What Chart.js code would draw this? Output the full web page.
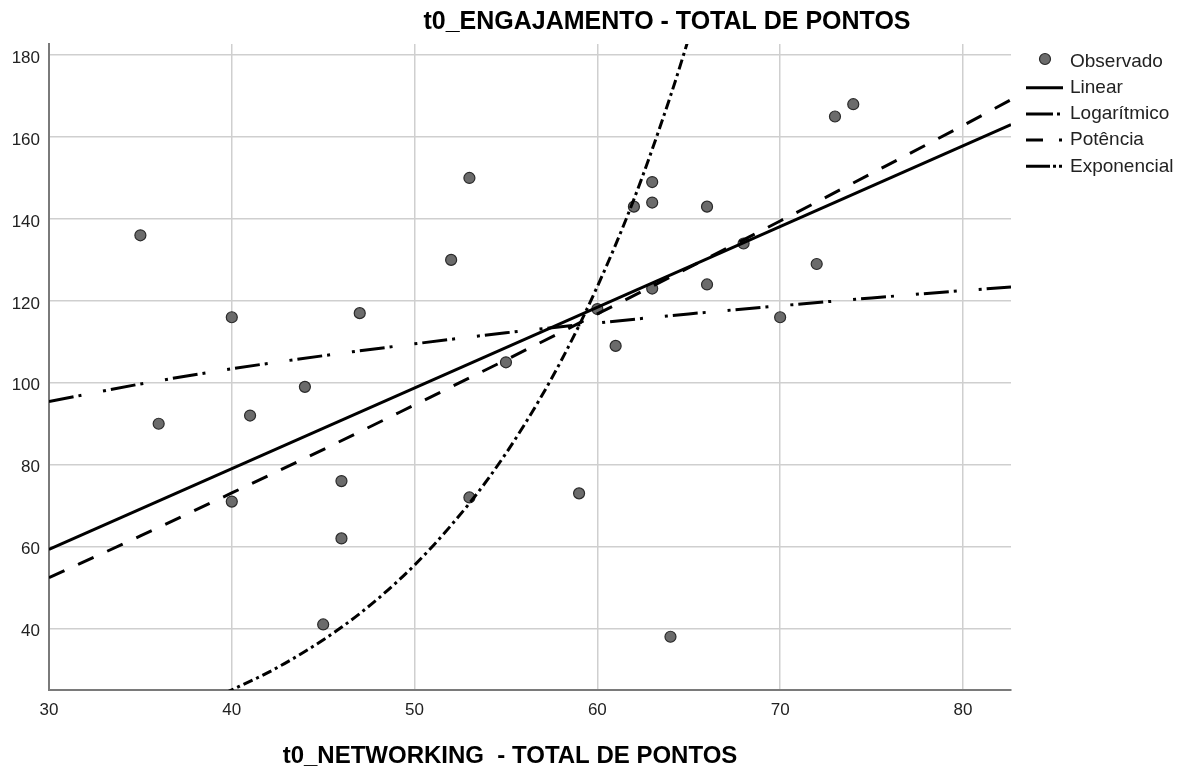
<!DOCTYPE html>
<html><head><meta charset="utf-8">
<script src="https://cdn.jsdelivr.net/npm/chart.js@4.4.1/dist/chart.umd.min.js"></script>
<style>html,body{margin:0;padding:0;background:#fff}#wrap{width:1197px;height:771px;position:relative}</style>
</head><body><div id="wrap"><canvas id="c"></canvas></div>
<script>
const chartTitle = 't0_ENGAJAMENTO - TOTAL DE PONTOS';
const xTitle = 't0_NETWORKING  - TOTAL DE PONTOS';
const legendLabels = ['Observado', 'Linear', 'Logarítmico', 'Potência', 'Exponencial'];

const obsX = [35, 36, 40, 40, 41, 44, 45, 46, 46, 47, 52, 53, 53, 55, 59, 60, 61, 62, 63, 63, 63, 64, 66, 66, 68, 70, 72, 73, 74];
const obsY = [136, 90, 116, 71, 92, 99, 41, 76, 62, 117, 130, 150, 72, 105, 73, 118, 109, 143, 149, 144, 123, 38, 143, 124, 134, 116, 129, 165, 168];

const linX = [30, 82.63];
const linY = [59.3, 163.0];

const logX = [30, 35, 40, 45, 50, 55, 60, 65, 70, 75, 80, 82.63];
const logY = [95.4, 99.7, 103.4, 106.6, 109.5, 112.2, 114.6, 116.8, 118.8, 120.7, 122.5, 123.4];

const powX = [30, 35, 40, 45, 50, 55, 60, 65, 70, 75, 80, 82.63];
const powY = [52.4, 62.6, 73.1, 83.7, 94.6, 105.6, 116.8, 128.1, 139.5, 151.1, 162.8, 169.1];

const expX = [39.6, 42, 44, 46, 48, 50, 52, 54, 56, 58, 60, 62, 64, 65.2];
const expY = [24.2, 29.3, 34.4, 40.3, 47.3, 55.5, 65.2, 76.4, 89.7, 105.2, 123.5, 144.8, 170.0, 187.0];

const xTicks = [30, 40, 50, 60, 70, 80];
const yTicks = [40, 60, 80, 100, 120, 140, 160, 180];

const pts = (xs, ys) => xs.map((x, i) => ({x: x, y: ys[i]}));

const FONT = '"Liberation Sans", Arial, sans-serif';
const dashLog = [25, 5, 3, 22, 3, 5];
const dashPow = [17, 15];
const dashExp = [10, 4, 3, 4];

function fitLine(label, xs, ys, dash, order) {
  return {
    type: 'line', label: label, data: pts(xs, ys), showLine: true,
    borderColor: '#000', borderWidth: 3, borderDash: dash, borderCapStyle: 'butt',
    pointRadius: 0, pointHoverRadius: 0, fill: false, clip: 0,
    cubicInterpolationMode: 'monotone', order: order
  };
}

const overlay = {
  id: 'overlay',
  afterDraw(chart) {
    const ctx = chart.ctx;
    ctx.save();
    ctx.fillStyle = '#000';
    ctx.textAlign = 'center';
    ctx.textBaseline = 'middle';
    ctx.font = 'bold 25px ' + FONT;
    ctx.fillText(chartTitle, 667, 22);
    ctx.font = 'bold 24px ' + FONT;
    ctx.fillText(xTitle, 510, 756);

    // legend
    const lx0 = 1026, lx1 = 1063, tx = 1070;
    const rowY = i => 61.5 + i * 26.2;
    ctx.textAlign = 'left';
    ctx.font = '19px ' + FONT;
    ctx.fillStyle = '#222';
    legendLabels.forEach((lab, i) => ctx.fillText(lab, tx, rowY(i)));
    // marker
    ctx.beginPath();
    ctx.arc(1045, 59, 5.5, 0, Math.PI * 2);
    ctx.fillStyle = '#6b6b6b';
    ctx.fill();
    ctx.lineWidth = 1.2;
    ctx.strokeStyle = '#2a2a2a';
    ctx.stroke();
    const legDash = [[], [27, 4, 3, 20], [17, 16, 3, 20], [24, 3, 3, 3, 3, 20]];
    ctx.strokeStyle = '#000';
    ctx.lineWidth = 3;
    ctx.lineCap = 'butt';
    legDash.forEach((d, j) => {
      const y = rowY(j + 1);
      ctx.setLineDash(d);
      ctx.beginPath();
      ctx.moveTo(lx0, y);
      ctx.lineTo(lx1, y);
      ctx.stroke();
    });
    ctx.restore();
  }
};

new Chart(document.getElementById('c'), {
  type: 'scatter',
  data: {
    datasets: [
      fitLine('Linear', linX, linY, [], 1),
      fitLine('Logarítmico', logX, logY, dashLog, 2),
      fitLine('Potência', powX, powY, dashPow, 3),
      fitLine('Exponencial', expX, expY, dashExp, 4),
      {
        type: 'scatter', label: 'Observado', data: pts(obsX, obsY),
        backgroundColor: '#6b6b6b', borderColor: '#2a2a2a', borderWidth: 1.2,
        pointRadius: 5.5, pointHoverRadius: 5.5, order: 10
      }
    ]
  },
  options: {
    responsive: true, maintainAspectRatio: false, animation: false,
    layout: {padding: {top: 44, right: 186, left: 0, bottom: 0}},
    plugins: {legend: {display: false}, tooltip: {enabled: false}, title: {display: false}},
    scales: {
      x: {
        type: 'linear', min: 30, max: 82.63,
        afterBuildTicks: s => { s.ticks = xTicks.map(v => ({value: v})); },
        afterFit: s => { s.height = 81; },
        grid: {color: '#cfcfcf', lineWidth: 1.5, drawTicks: false},
        border: {display: true, color: '#7a7a7a', width: 2},
        ticks: {padding: 10, color: '#222', font: {family: FONT, size: 17}, maxRotation: 0}
      },
      y: {
        type: 'linear', min: 25, max: 182.7,
        afterBuildTicks: s => { s.ticks = yTicks.map(v => ({value: v})); },
        afterFit: s => { s.width = 49; },
        grid: {color: '#cfcfcf', lineWidth: 1.5, drawTicks: false},
        border: {display: true, color: '#7a7a7a', width: 2},
        ticks: {padding: 9, labelOffset: 3, color: '#222', font: {family: FONT, size: 17}}
      }
    }
  },
  plugins: [overlay]
});
</script>
</body></html>
